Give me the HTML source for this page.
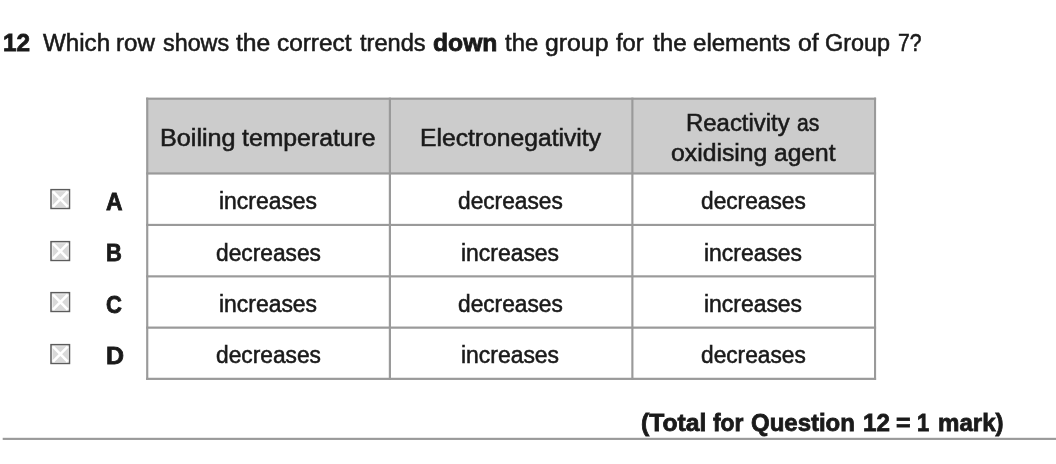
<!DOCTYPE html>
<html><head><meta charset="utf-8">
<style>
html,body{margin:0;padding:0;background:#fff;}
body{width:1056px;height:464px;position:relative;overflow:hidden;font-family:"Liberation Sans",sans-serif;color:#1a1a1a;}
.t{position:absolute;white-space:nowrap;line-height:27px;font-size:23.8px;transform-origin:0 0;-webkit-text-stroke:0.55px #1a1a1a;}
.b{font-weight:bold;-webkit-text-stroke:0.8px #1a1a1a;}
</style></head><body>
<svg style="position:absolute;left:0;top:0;" width="1056" height="464" viewBox="0 0 1056 464">
<rect x="147" y="98.5" width="728" height="75" fill="#cccccc"/>
<rect x="146.15" y="97.62" width="729.95" height="2.14" fill="#9a9a9a"/>
<rect x="146.15" y="172.37" width="729.95" height="2.20" fill="#9a9a9a"/>
<rect x="146.15" y="223.85" width="729.95" height="2.15" fill="#9a9a9a"/>
<rect x="146.15" y="275.28" width="729.95" height="2.17" fill="#9a9a9a"/>
<rect x="146.15" y="326.53" width="729.95" height="2.22" fill="#9a9a9a"/>
<rect x="146.15" y="377.75" width="729.95" height="2.20" fill="#9a9a9a"/>
<rect x="146.15" y="97.62" width="2.15" height="282.33" fill="#9a9a9a"/>
<rect x="388.8" y="97.62" width="2.20" height="282.33" fill="#9a9a9a"/>
<rect x="631.3" y="97.62" width="2.15" height="282.33" fill="#9a9a9a"/>
<rect x="874.0" y="97.62" width="2.10" height="282.33" fill="#9a9a9a"/>
<rect x="2.7" y="437.8" width="1054" height="2.15" fill="#9a9a9a"/>
</svg>
<div class="t b" id="qa0" style="font-size:24.4px;left:3.25px;top:29.00px;transform:scaleX(0.9980);">12</div>
<div class="t" id="qb0" style="font-size:23.5px;left:43.26px;top:29.50px;transform:scaleX(1.0272);">Which</div>
<div class="t" id="qb1" style="font-size:23.5px;left:115.72px;top:29.50px;transform:scaleX(1.0270);">row</div>
<div class="t" id="qb2" style="font-size:23.5px;left:163.25px;top:29.50px;transform:scaleX(0.9924);">shows</div>
<div class="t" id="qb3" style="font-size:23.5px;left:236.00px;top:29.50px;transform:scaleX(1.0500);">the</div>
<div class="t" id="qb4" style="font-size:23.5px;left:277.22px;top:29.50px;transform:scaleX(1.0358);">correct</div>
<div class="t" id="qb5" style="font-size:23.5px;left:360.00px;top:29.50px;transform:scaleX(1.0039);">trends</div>
<div class="t b" id="qc0" style="font-size:24.4px;left:432.99px;top:29.00px;transform:scaleX(1.0121);">down</div>
<div class="t" id="qd0" style="font-size:23.5px;left:504.50px;top:29.50px;transform:scaleX(1.0156);">the</div>
<div class="t" id="qd1" style="font-size:23.5px;left:544.71px;top:29.50px;transform:scaleX(1.0553);">group</div>
<div class="t" id="qd2" style="font-size:23.5px;left:616.25px;top:29.50px;transform:scaleX(1.0092);">for</div>
<div class="t" id="qd3" style="font-size:23.5px;left:652.50px;top:29.50px;transform:scaleX(1.0312);">the</div>
<div class="t" id="qd4" style="font-size:23.5px;left:692.98px;top:29.50px;transform:scaleX(1.0239);">elements</div>
<div class="t" id="qd5" style="font-size:23.5px;left:797.96px;top:29.50px;transform:scaleX(1.0526);">of</div>
<div class="t" id="qd6" style="font-size:23.5px;left:825.25px;top:29.50px;transform:scaleX(0.9961);">Group</div>
<div class="t" id="qd7" style="font-size:23.5px;left:898.33px;top:29.50px;transform:scaleX(0.9000);">7?</div>
<div class="t" id="ha0" style="font-size:23.5px;left:160.13px;top:124.50px;transform:scaleX(1.0711);">Boiling</div>
<div class="t" id="ha1" style="font-size:23.5px;left:242.00px;top:124.50px;transform:scaleX(1.0548);">temperature</div>
<div class="t" id="hb0" style="font-size:23.5px;left:420.16px;top:124.50px;transform:scaleX(1.0497);">Electronegativity</div>
<div class="t" id="hc0" style="font-size:23.5px;left:686.42px;top:109.50px;transform:scaleX(1.0179);">Reactivity</div>
<div class="t" id="hc1" style="font-size:23.5px;left:797.49px;top:109.50px;transform:scaleX(0.9000);">as</div>
<div class="t" id="hd0" style="font-size:23.5px;left:670.71px;top:139.50px;transform:scaleX(1.0536);">oxidising</div>
<div class="t" id="hd1" style="font-size:23.5px;left:774.27px;top:139.50px;transform:scaleX(1.0455);">agent</div>
<div class="t b" id="lA0" style="font-size:24.4px;left:105.96px;top:188.00px;transform:scaleX(0.9391);">A</div>
<div class="t b" id="lB0" style="font-size:24.4px;left:105.95px;top:239.00px;transform:scaleX(0.9000);">B</div>
<div class="t b" id="lC0" style="font-size:24.4px;left:105.63px;top:291.00px;transform:scaleX(0.9000);">C</div>
<div class="t b" id="lD0" style="font-size:24.4px;left:105.87px;top:342.00px;transform:scaleX(1.0222);">D</div>
<div class="t b" id="tt0" style="font-size:24.4px;left:640.99px;top:409.00px;transform:scaleX(1.0120);">(Total</div>
<div class="t b" id="tt1" style="font-size:24.4px;left:713.25px;top:409.00px;transform:scaleX(0.9385);">for</div>
<div class="t b" id="tt2" style="font-size:24.4px;left:751.01px;top:409.00px;transform:scaleX(0.9831);">Question</div>
<div class="t b" id="tt3" style="font-size:24.4px;left:862.51px;top:409.00px;transform:scaleX(0.9901);">12</div>
<div class="t b" id="tt4" style="font-size:24.4px;left:896.24px;top:409.00px;transform:scaleX(1.0196);">=</div>
<div class="t b" id="tt5" style="font-size:24.4px;left:917.48px;top:409.00px;transform:scaleX(0.9000);">1</div>
<div class="t b" id="tt6" style="font-size:24.4px;left:937.52px;top:409.00px;transform:scaleX(0.9875);">mark)</div>
<div class="t" id="r11" style="font-size:23.5px;left:218.89px;top:187.50px;transform:scaleX(0.9746);">increases</div>
<div class="t" id="r12" style="font-size:23.5px;left:458.37px;top:187.50px;transform:scaleX(0.9660);">decreases</div>
<div class="t" id="r13" style="font-size:23.5px;left:701.12px;top:187.50px;transform:scaleX(0.9660);">decreases</div>
<div class="t" id="r21" style="font-size:23.5px;left:215.77px;top:239.50px;transform:scaleX(0.9682);">decreases</div>
<div class="t" id="r22" style="font-size:23.5px;left:461.49px;top:239.50px;transform:scaleX(0.9746);">increases</div>
<div class="t" id="r23" style="font-size:23.5px;left:704.24px;top:239.50px;transform:scaleX(0.9746);">increases</div>
<div class="t" id="r31" style="font-size:23.5px;left:218.89px;top:290.50px;transform:scaleX(0.9746);">increases</div>
<div class="t" id="r32" style="font-size:23.5px;left:458.37px;top:290.50px;transform:scaleX(0.9660);">decreases</div>
<div class="t" id="r33" style="font-size:23.5px;left:704.24px;top:290.50px;transform:scaleX(0.9746);">increases</div>
<div class="t" id="r41" style="font-size:23.5px;left:215.77px;top:341.50px;transform:scaleX(0.9682);">decreases</div>
<div class="t" id="r42" style="font-size:23.5px;left:461.49px;top:341.50px;transform:scaleX(0.9746);">increases</div>
<div class="t" id="r43" style="font-size:23.5px;left:701.12px;top:341.50px;transform:scaleX(0.9660);">decreases</div>
<!-- rows -->
<svg style="position:absolute;left:48px;top:187.4px;" width="25" height="25" viewBox="0 0 25 25"><rect x="3.0" y="2.65" width="18.5" height="18.8" fill="#fff" stroke="#5c5c5c" stroke-width="1.5"/><rect x="4.5" y="4.2" width="15.7" height="15.9" fill="#d9d9d9"/><path d="M5 4.7L19.7 19.6M19.7 4.7L5 19.6" stroke="#fff" stroke-width="2.6" fill="none"/></svg>
<svg style="position:absolute;left:48px;top:238.8px;" width="25" height="25" viewBox="0 0 25 25"><rect x="3.0" y="2.65" width="18.5" height="18.8" fill="#fff" stroke="#5c5c5c" stroke-width="1.5"/><rect x="4.5" y="4.2" width="15.7" height="15.9" fill="#d9d9d9"/><path d="M5 4.7L19.7 19.6M19.7 4.7L5 19.6" stroke="#fff" stroke-width="2.6" fill="none"/></svg>
<svg style="position:absolute;left:48px;top:290.1px;" width="25" height="25" viewBox="0 0 25 25"><rect x="3.0" y="2.65" width="18.5" height="18.8" fill="#fff" stroke="#5c5c5c" stroke-width="1.5"/><rect x="4.5" y="4.2" width="15.7" height="15.9" fill="#d9d9d9"/><path d="M5 4.7L19.7 19.6M19.7 4.7L5 19.6" stroke="#fff" stroke-width="2.6" fill="none"/></svg>
<svg style="position:absolute;left:48px;top:341.5px;" width="25" height="25" viewBox="0 0 25 25"><rect x="3.0" y="2.65" width="18.5" height="18.8" fill="#fff" stroke="#5c5c5c" stroke-width="1.5"/><rect x="4.5" y="4.2" width="15.7" height="15.9" fill="#d9d9d9"/><path d="M5 4.7L19.7 19.6M19.7 4.7L5 19.6" stroke="#fff" stroke-width="2.6" fill="none"/></svg>
</body></html>
